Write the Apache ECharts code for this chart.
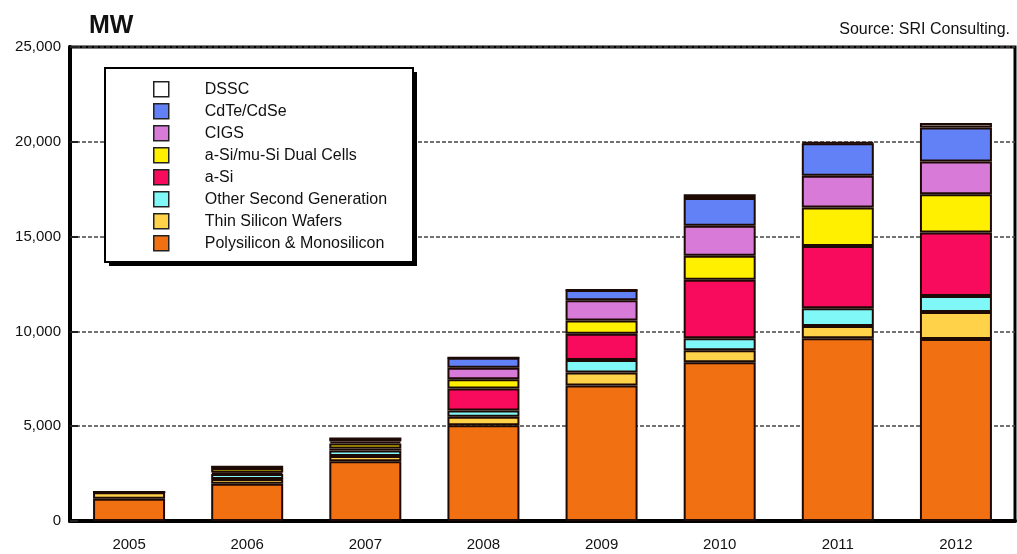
<!DOCTYPE html>
<html>
<head>
<meta charset="utf-8">
<script src="https://cdn.jsdelivr.net/npm/echarts@6/dist/echarts.min.js"></script>
<style>
  html, body { margin: 0; padding: 0; background: #fff; }
  #chart { width: 1017px; height: 554px; }
</style>
</head>
<body>
<div id="chart"></div>
<script>
// Years on the category axis
const years = ['2005', '2006', '2007', '2008', '2009', '2010', '2011', '2012'];

// Installed capacity by technology, MW (stacked bottom to top)
const polyMono   = [1170, 1970, 3150, 5050, 7150, 8370, 9640, 9600];
const thinWafers = [350, 250, 280, 450, 680, 630, 650, 1420];
const otherSecond = [0, 260, 290, 330, 660, 640, 930, 850];
const aSi        = [0, 80, 110, 1160, 1390, 3080, 3290, 3350];
const dualCells  = [0, 240, 260, 480, 700, 1270, 2030, 2020];
const cigs       = [0, 30, 100, 610, 1060, 1580, 1670, 1720];
const cdte       = [0, 30, 160, 530, 540, 1460, 1710, 1800];
const dssc       = [0, 0, 0, 0, 0, 200, 60, 230];

// Value-axis tick labels
const yTicks = ['0', '5,000', '10,000', '15,000', '20,000', '25,000'];

const seriesDefs = [
  { name: 'Polysilicon & Monosilicon', data: polyMono,    color: '#f07012' },
  { name: 'Thin Silicon Wafers',       data: thinWafers,  color: '#ffd24a' },
  { name: 'Other Second Generation',   data: otherSecond, color: '#80f8f8' },
  { name: 'a-Si',                      data: aSi,         color: '#f80a5c' },
  { name: 'a-Si/mu-Si Dual Cells',     data: dualCells,   color: '#fff000' },
  { name: 'CIGS',                      data: cigs,        color: '#d87ad8' },
  { name: 'CdTe/CdSe',                 data: cdte,        color: '#6281f6' },
  { name: 'DSSC',                      data: dssc,        color: '#cfcfcf' }
];

const FONT = '"Liberation Sans", Arial, sans-serif';

const chart = echarts.init(document.getElementById('chart'), null, { renderer: 'canvas' });

chart.setOption({
  backgroundColor: '#ffffff',
  animation: false,
  textStyle: { fontFamily: FONT },
  title: [
    {
      text: 'MW',
      left: 84, top: 9,
      textStyle: { fontFamily: FONT, fontSize: 25, fontWeight: 'bold', color: '#111' }
    },
    {
      text: 'Source: SRI Consulting.',
      right: 2, top: 17,
      textStyle: { fontFamily: FONT, fontSize: 16, fontWeight: 'normal', color: '#111' }
    }
  ],
  // Legend frame with a hard drop shadow
  graphic: [
    {
      type: 'rect', z: 1, silent: true,
      shape: { x: 109, y: 72, width: 308, height: 194 },
      style: { fill: '#000' }
    },
    {
      type: 'rect', z: 2, silent: true,
      shape: { x: 105, y: 68, width: 308, height: 194 },
      style: { fill: '#fff', stroke: '#000', lineWidth: 2 }
    }
  ],
  legend: {
    z: 10,
    orient: 'vertical',
    left: 105, top: 68,
    padding: [13, 18, 13, 48],
    icon: 'rect',
    itemWidth: 15, itemHeight: 15,
    itemGap: 5.5,
    itemStyle: { borderColor: '#222', borderWidth: 1.5 },
    textStyle: { fontFamily: FONT, fontSize: 16, color: '#111', padding: [0, 0, 0, 31] },
    data: seriesDefs.slice().reverse().map(s =>
      s.name === 'DSSC' ? { name: s.name, itemStyle: { color: '#ffffff' } } : { name: s.name }
    )
  },
  grid: {
    left: 70, right: 2, top: 47, bottom: 33,
    show: true,
    borderColor: '#000',
    borderWidth: 3,
    containLabel: false
  },
  xAxis: {
    type: 'category',
    data: years,
    axisLine: { lineStyle: { color: '#000', width: 4 } },
    axisTick: { show: false },
    axisLabel: { fontFamily: FONT, fontSize: 15, color: '#111', margin: 16 }
  },
  yAxis: {
    type: 'value',
    min: 0, max: 25000, interval: 5000,
    axisLine: { show: true, lineStyle: { color: '#000', width: 4 } },
    axisTick: { show: true, inside: true, length: 8, lineStyle: { color: '#222', width: 2 } },
    axisLabel: {
      fontFamily: FONT, fontSize: 15, color: '#111', margin: 9,
      formatter: (v) => yTicks[Math.round(v / 5000)]
    },
    splitLine: { show: true, lineStyle: { color: '#444', width: 1.5, type: [4, 2] } }
  },
  series: seriesDefs.map(s => ({
    name: s.name,
    type: 'bar',
    stack: 'total',
    data: s.data,
    barWidth: 72,
    itemStyle: { color: s.color, borderColor: '#1e0a05', borderWidth: 2 }
  }))
});
</script>
</body>
</html>
